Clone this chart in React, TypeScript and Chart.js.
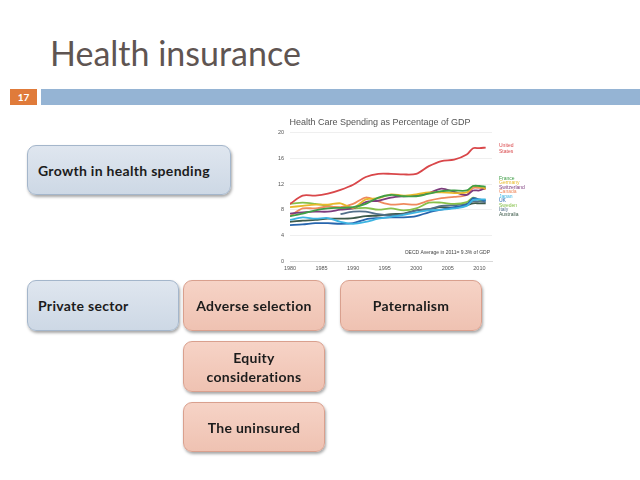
import React, { useEffect, useRef } from "react";
import { Chart, registerables } from "chart.js";

Chart.register(...registerables);

const CHART_TITLE = "Health Care Spending as Percentage of GDP";
const NOTE = "OECD Average in 2011= 9.3% of GDP";
const YEARS = [1980, 1982, 1984, 1986, 1988, 1990, 1992, 1994, 1996, 1998, 2000, 2002, 2004, 2006, 2008, 2009, 2010, 2011];
const X_TICKS = [1980, 1985, 1990, 1995, 2000, 2005, 2010];
const Y_TICKS = [0, 4, 8, 12, 16, 20];

const COUNTRIES = ["United States", "France", "Germany", "Switzerland", "Canada", "Japan", "UK", "Sweden", "Italy", "Australia"];
const COLORS = ["#d9474a", "#3f9e47", "#e8b82a", "#7d3c7d", "#ef8a5e", "#3db4e2", "#2765ad", "#86c04a", "#52708a", "#3d5a4a"];

const US = [8.9, 10.2, 10.2, 10.5, 11.1, 11.9, 13.1, 13.6, 13.6, 13.5, 13.6, 14.8, 15.6, 15.8, 16.6, 17.6, 17.6, 17.7];
const FRANCE = [7.0, 7.4, 7.9, 8.2, 8.3, 8.4, 8.9, 9.9, 10.3, 10.1, 10.1, 10.5, 10.9, 11.0, 11.0, 11.7, 11.7, 11.6];
const GERMANY = [8.4, 8.6, 8.8, 8.8, 9.0, 8.3, 9.6, 9.8, 10.4, 10.2, 10.4, 10.7, 10.7, 10.6, 10.7, 11.7, 11.6, 11.3];
const SWITZERLAND = [7.4, 7.6, 7.7, 7.7, 8.0, 8.2, 9.2, 9.4, 9.9, 10.1, 10.2, 10.6, 11.3, 10.8, 10.3, 11.0, 11.0, 11.4];
const CANADA = [7.0, 8.2, 8.2, 8.5, 8.4, 8.9, 9.9, 9.3, 8.8, 8.9, 8.8, 9.4, 9.8, 10.0, 10.3, 11.4, 11.4, 11.2];
const JAPAN = [6.4, 6.8, 6.6, 6.7, 6.1, 5.8, 6.1, 6.6, 6.9, 7.2, 7.6, 7.9, 8.0, 8.2, 8.6, 9.5, 9.6, 9.6];
const UK = [5.6, 5.7, 5.9, 5.9, 5.8, 5.9, 6.5, 6.7, 6.8, 6.8, 7.0, 7.6, 8.0, 8.4, 8.8, 9.8, 9.6, 9.4];
const SWEDEN = [8.9, 9.1, 8.9, 8.6, 8.3, 8.2, 8.3, 8.0, 8.2, 7.9, 8.2, 9.1, 9.1, 8.9, 9.2, 9.9, 9.5, 9.5];
const ITALY = [null, null, null, null, 7.3, 7.7, 7.7, 7.3, 7.1, 7.3, 7.9, 8.1, 8.6, 8.7, 8.9, 9.3, 9.3, 9.2];
const AUSTRALIA = [6.1, 6.3, 6.4, 6.6, 6.6, 6.7, 7.0, 7.1, 7.3, 7.4, 7.9, 8.1, 8.4, 8.3, 8.7, 9.0, 9.0, 9.0];

const SERIES: (number | null)[][] = [US, FRANCE, GERMANY, SWITZERLAND, CANADA, JAPAN, UK, SWEDEN, ITALY, AUSTRALIA];

const labelPlugin = {
  id: "countryLabels",
  afterDatasetsDraw(chart: any) {
    const { ctx, chartArea, scales } = chart;
    const y = scales.y;
    ctx.save();
    ctx.font = '5px "Liberation Sans", Arial, sans-serif';
    ctx.textBaseline = "middle";
    ctx.textAlign = "left";
    const x = chartArea.right + 7;
    const usLast = US[US.length - 1] as number;
    const usY = y.getPixelForValue(usLast);
    ctx.fillStyle = COLORS[0];
    ctx.fillText("United", x, usY - 1.5);
    ctx.fillText("States", x, usY + 4);
    const lasts = SERIES.slice(1).map((s) => s[s.length - 1] as number);
    const top = y.getPixelForValue(Math.max(...lasts)) - 8;
    COUNTRIES.slice(1).forEach((name, i) => {
      ctx.fillStyle = COLORS[i + 1];
      ctx.fillText(name, x, top + i * 4.45);
    });
    ctx.fillStyle = "#444";
    ctx.textAlign = "right";
    ctx.fillText(NOTE, chartArea.right - 2, y.getPixelForValue(1.35));
    ctx.restore();
  },
};

function HealthChart() {
  const ref = useRef<HTMLCanvasElement>(null);
  useEffect(() => {
    if (!ref.current) return;
    const chart = new Chart(ref.current, {
      type: "line",
      data: {
        datasets: COUNTRIES.map((name, i) => ({
          label: name,
          data: YEARS.map((yr, j) => ({ x: yr, y: SERIES[i][j] })),
          borderColor: COLORS[i],
          backgroundColor: COLORS[i],
          borderWidth: 1.8,
          pointRadius: 0,
          tension: 0.3,
          spanGaps: false,
        })) as any,
      },
      options: {
        animation: false,
        responsive: false,
        maintainAspectRatio: false,
        layout: { padding: { left: 6, right: 40, top: 0, bottom: 3 } },
        plugins: {
          legend: { display: false },
          tooltip: { enabled: false },
          title: {
            display: true,
            text: CHART_TITLE,
            color: "#555",
            font: { size: 9, family: '"Liberation Sans", Arial, sans-serif', weight: "normal" },
            padding: { top: 4, bottom: 5 },
          },
        },
        scales: {
          x: {
            type: "linear",
            min: 1980,
            max: 2012,
            afterFit: (s: any) => { s.height = 14; },
            afterBuildTicks: (s: any) => { s.ticks = X_TICKS.map((v) => ({ value: v })); },
            ticks: {
              includeBounds: false,
              padding: 4,
              color: "#555",
              font: { size: 5.5, family: '"Liberation Sans", Arial, sans-serif' },
              callback: (v: any) => String(v),
            },
            grid: { display: false, drawTicks: false },
            border: { display: true, color: "#d8d8d8" },
          },
          y: {
            min: 0,
            max: 20,
            afterFit: (s: any) => { s.width = 22; },
            afterBuildTicks: (s: any) => { s.ticks = Y_TICKS.map((v) => ({ value: v })); },
            ticks: {
              padding: 6,
              color: "#555",
              font: { size: 5.5, family: '"Liberation Sans", Arial, sans-serif' },
            },
            grid: { color: "#ebebeb", lineWidth: 0.8, drawTicks: false },
            border: { display: false },
          },
        },
      } as any,
      plugins: [labelPlugin],
    });
    return () => chart.destroy();
  }, []);
  return (
    <canvas
      ref={ref}
      width={270}
      height={165}
      style={{ position: "absolute", left: 262, top: 113, width: 270, height: 165 }}
    />
  );
}

type BoxProps = { left: number; top: number; width: number; height: number; kind: "blue" | "pink"; align: "left" | "center"; children: React.ReactNode };

function Box({ left, top, width, height, kind, align, children }: BoxProps) {
  const blue = kind === "blue";
  return (
    <div
      style={{
        position: "absolute",
        left,
        top,
        width,
        height,
        boxSizing: "border-box",
        borderRadius: 9,
        border: `1px solid ${blue ? "#a4b6cb" : "#d9a08e"}`,
        background: blue
          ? "linear-gradient(#dfe6ef, #cdd8e5)"
          : "linear-gradient(#f6d3c6, #efc2b2)",
        boxShadow: "1px 2px 3px rgba(0,0,0,0.35)",
        display: "flex",
        alignItems: "center",
        justifyContent: align === "left" ? "flex-start" : "center",
        paddingLeft: align === "left" ? 10 : 0,
        textAlign: "center",
        fontFamily: "Lato, 'Open Sans', sans-serif",
        fontWeight: 700,
        fontSize: 14,
        lineHeight: "19px",
        color: "#1c1c1c",
        letterSpacing: 0.3,
      }}
    >
      {children}
    </div>
  );
}

export default function App() {
  return (
    <div style={{ position: "fixed", left: 0, top: 0, width: 640, height: 480, background: "#fff", overflow: "hidden" }}>
      <div
        style={{
          position: "absolute",
          left: 50,
          top: 31,
          fontFamily: "Lato, sans-serif",
          fontSize: 34,
          lineHeight: "44px",
          color: "#5f5552",
          whiteSpace: "nowrap",
        }}
      >
        Health insurance
      </div>
      <div
        style={{
          position: "absolute",
          left: 10,
          top: 89,
          width: 27,
          height: 16,
          background: "#e07b3a",
          color: "#fff",
          fontFamily: "Lato, sans-serif",
          fontWeight: 700,
          fontSize: 10,
          lineHeight: "16px",
          textAlign: "center",
        }}
      >
        17
      </div>
      <div style={{ position: "absolute", left: 41, top: 89, width: 599, height: 16, background: "#95b4d4" }} />
      <HealthChart />
      <Box left={27} top={145} width={204} height={50} kind="blue" align="left">Growth in health spending</Box>
      <Box left={27} top={280} width={152} height={51} kind="blue" align="left">Private sector</Box>
      <Box left={183} top={280} width={142} height={51} kind="pink" align="center">Adverse selection</Box>
      <Box left={340} top={280} width={142} height={51} kind="pink" align="center">Paternalism</Box>
      <Box left={183} top={341} width={142} height={51} kind="pink" align="center">Equity<br />considerations</Box>
      <Box left={183} top={402} width={142} height={50} kind="pink" align="center">The uninsured</Box>
    </div>
  );
}
